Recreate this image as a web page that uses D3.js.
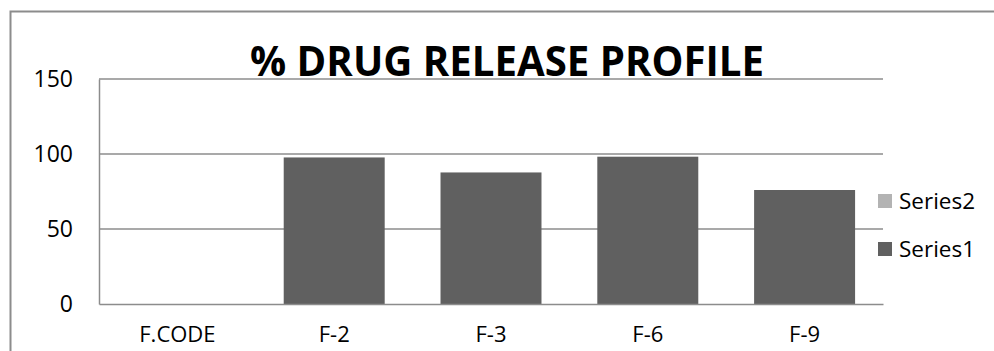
<!DOCTYPE html>
<html>
<head>
<meta charset="utf-8">
<script src="https://cdn.jsdelivr.net/npm/d3@7"></script>
<style>
  html, body { margin: 0; padding: 0; background: #fff; overflow: hidden; }
  svg { display: block; }
  text { font-family: "Open Sans", "DejaVu Sans", sans-serif; fill: #000; }
</style>
</head>
<body>
<svg id="chart" width="994" height="351"></svg>
<script>
// Formulation codes and their % drug release
const categories = ["F.CODE", "F-2", "F-3", "F-6", "F-9"];
const series1 = [0, 97.7, 87.7, 98.2, 76.0];
const series2 = [0, 0, 0, 0, 0];
const yTicks = [0, 50, 100, 150];
const seriesNames = ["Series2", "Series1"];
const seriesColors = ["#b3b3b3", "#606060"];
const title = "% DRUG RELEASE PROFILE";

const svg = d3.select("#chart");
const W = 994, H = 351;
const plot = { left: 99, right: 883, top: 79, bottom: 304 };

// outer chart frame: only its top and left edges fall inside the canvas
svg.append("path")
  .attr("d", `M10.5,${H}V11.5H${W}`)
  .attr("fill", "none")
  .attr("stroke", "#8c8c8c").attr("stroke-width", 2);

const x = d3.scaleBand()
  .domain(categories)
  .range([plot.left, plot.right])
  .paddingInner(0.356)
  .paddingOuter(0.178);

const y = d3.scaleLinear()
  .domain([0, 150])
  .range([plot.bottom, plot.top]);

// horizontal gridlines
svg.append("g")
  .selectAll("line")
  .data(yTicks.filter(t => t > 0))
  .join("line")
  .attr("x1", plot.left).attr("x2", plot.right)
  .attr("y1", d => y(d)).attr("y2", d => y(d))
  .attr("stroke", "#8c8c8c").attr("stroke-width", 1.5);

// stacked columns: Series1 at the base, Series2 above it
const stackData = categories.map((c, i) => ({ cat: c, Series1: series1[i], Series2: series2[i] }));
const stacked = d3.stack().keys(["Series1", "Series2"])(stackData);
const colorOf = { Series1: seriesColors[1], Series2: seriesColors[0] };

svg.append("g")
  .selectAll("g")
  .data(stacked)
  .join("g")
  .attr("fill", d => colorOf[d.key])
  .selectAll("rect")
  .data(d => d)
  .join("rect")
  .attr("x", d => x(d.data.cat))
  .attr("width", x.bandwidth())
  .attr("y", d => y(d[1]))
  .attr("height", d => y(d[0]) - y(d[1]));

// y axis
const yAxis = svg.append("g")
  .attr("transform", `translate(${plot.left},0)`)
  .call(d3.axisLeft(y).tickValues(yTicks).tickSize(0).tickPadding(26));
yAxis.select(".domain").attr("stroke", "#8c8c8c").attr("stroke-width", 1.5);
yAxis.selectAll("text")
  .attr("font-size", 23)
  .attr("font-family", "Open Sans, sans-serif")
  .attr("fill", "#000");

// x axis
const xAxis = svg.append("g")
  .attr("transform", `translate(0,${plot.bottom})`)
  .call(d3.axisBottom(x).tickSize(0).tickPadding(22));
xAxis.select(".domain").attr("stroke", "#8c8c8c").attr("stroke-width", 1.5);
xAxis.selectAll("text")
  .attr("font-size", 22)
  .attr("font-family", "Open Sans, sans-serif")
  .attr("fill", "#000");

// title
svg.append("text")
  .attr("x", 507).attr("y", 76)
  .attr("text-anchor", "middle")
  .attr("font-size", 41)
  .attr("font-weight", "bold")
  .attr("textLength", 514)
  .attr("lengthAdjust", "spacingAndGlyphs")
  .text(title);

// legend
const legend = svg.append("g")
  .selectAll("g")
  .data(seriesNames)
  .join("g")
  .attr("transform", (d, i) => `translate(878,${201 + i * 48})`);
legend.append("rect")
  .attr("x", 0).attr("y", -7)
  .attr("width", 14).attr("height", 14)
  .attr("fill", (d, i) => seriesColors[i]);
legend.append("text")
  .attr("x", 21).attr("y", 0)
  .attr("dy", "0.35em")
  .attr("font-size", 22.5)
  .text(d => d);
</script>
</body>
</html>
